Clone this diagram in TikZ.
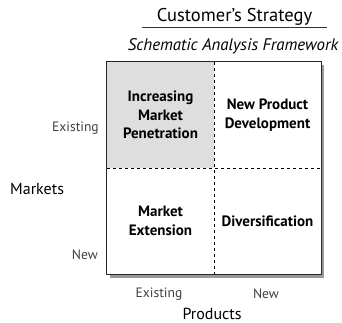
\documentclass[tikz,border=0pt]{standalone}
\usepackage{fontspec}
\setmainfont{PT Sans}
\usepackage{tikz}
\usetikzlibrary{positioning}

\begin{document}
\begin{tikzpicture}[x=1pt, y=-1pt, font=\fontsize{13.6}{15}\selectfont,
  quad/.style={minimum width=107pt, minimum height=106pt, inner sep=0pt, align=center,
    font=\fontsize{15}{18.5}\selectfont\bfseries},
  axis/.style={text=black!75, inner sep=0pt},
  every node/.style={align=center}]
\useasboundingbox (0,0) rectangle (342,323);
% heading
\node[inner sep=2pt, inner xsep=15pt, font=\fontsize{18.5}{20}\selectfont] (title) at (234.5,17) {Customer's Strategy};
\draw[black!80, line width=0.8pt] (title.south west) -- (title.south east);
\node[font=\fontsize{16.8}{20}\selectfont\itshape] (sub) at (233,46) {Schematic Analysis Framework};
% matrix
\fill[black!40] (110,65) rectangle (324,278);
\fill[white] (107,62) rectangle (321,275);
\node[quad, fill=black!13] (pen) at (160.5,115) {Increasing\\Market\\Penetration};
\node[quad] (dev) at (267.5,115) {New Product\\Development};
\node[quad] (ext) at (160.5,221) {Market\\Extension};
\node[quad] (div) at (267.5,221) {Diversification};
\draw[line width=1pt, black!85] (pen.north west) rectangle (div.south east);
\draw[dashed, line width=0.7pt] (pen.north east) -- (ext.south east);
\draw[dashed, line width=0.7pt] (pen.south west) -- (dev.south east);
% axes
\node[axis, anchor=east] (mex) at (99,128) {Existing};
\node[axis, anchor=east] (mnew) at (98,255) {New};
\node[anchor=west, font=\fontsize{16}{18}\selectfont, inner sep=0pt] (mkt) at (10,189) {Markets};
\node[axis] (pex) at (159,294) {Existing};
\node[axis] (pnew) at (266,294) {New};
\node[font=\fontsize{16}{18}\selectfont, inner sep=0pt] (prod) at (212,314) {Products};
\end{tikzpicture}
\end{document}
